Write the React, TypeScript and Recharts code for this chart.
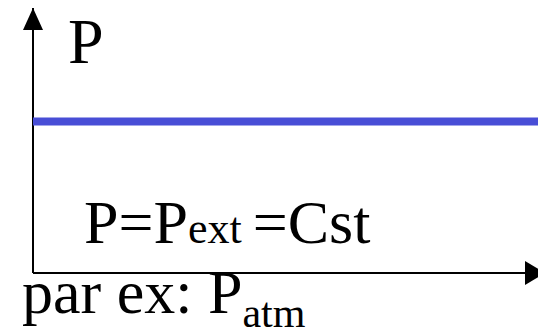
import { LineChart, Line, XAxis, YAxis, ReferenceLine } from 'recharts'

// isobaric process: pressure stays constant while volume changes
const volume = [0, 2, 4, 6, 8, 10]
const pressure = [4, 4, 4, 4, 4, 4]
const volumeDomain = [0, 10]
const pressureDomain = [0, 7]

const data = volume.map((v, i) => ({ v, p: pressure[i] }))

const serif = '"Liberation Serif", "Times New Roman", serif'

export default function App() {
  return (
    <div style={{ position: 'absolute', left: 0, top: 0, width: 538, height: 335, background: '#fff' }}>
      {/* arrowheads for the axes */}
      <svg width={0} height={0} style={{ position: 'absolute' }}>
        <defs>
          <marker id="arrow-up" markerUnits="userSpaceOnUse" markerWidth={20} markerHeight={22}
            refX={10} refY={0} orient="0" overflow="visible">
            <path d="M0,22 L10,0 L20,22 Z" fill="#000" />
          </marker>
          <marker id="arrow-right" markerUnits="userSpaceOnUse" markerWidth={20} markerHeight={24}
            refX={13} refY={12} orient="0" overflow="visible">
            <path d="M0,0 L20,12 L0,24 Z" fill="#000" />
          </marker>
        </defs>
      </svg>
      <LineChart width={538} height={335} data={data} margin={{ top: 8, right: 0, left: 33, bottom: 62 }}>
        <XAxis dataKey="v" type="number" domain={volumeDomain} hide />
        <YAxis type="number" domain={pressureDomain} hide />
        {/* axes drawn as segments so the arrowheads sit at their ends */}
        <ReferenceLine segment={[{ x: volumeDomain[0], y: pressureDomain[0] }, { x: volumeDomain[0], y: pressureDomain[1] }]}
          stroke="#000" strokeWidth={2} markerEnd="url(#arrow-up)" />
        <ReferenceLine segment={[{ x: volumeDomain[0], y: pressureDomain[0] }, { x: volumeDomain[1], y: pressureDomain[0] }]}
          stroke="#000" strokeWidth={2} markerEnd="url(#arrow-right)" />
        <Line dataKey="p" stroke="#484ed6" strokeWidth={8} dot={false} isAnimationActive={false} />
      </LineChart>
      <svg width={538} height={335} style={{ position: 'absolute', left: 0, top: 0, pointerEvents: 'none' }}
        fontFamily={serif} fill="#000">
        <text x={68} y={63} fontSize={64}>P</text>
        <text x={84} y={243} fontSize={62}>
          P=P<tspan fontSize={44}>ext</tspan><tspan fontSize={44}> </tspan>=Cst
        </text>
        <text x={22} y={313} fontSize={62}>
          par ex: P<tspan fontSize={42} dy={14}>atm</tspan>
        </text>
      </svg>
    </div>
  )
}
